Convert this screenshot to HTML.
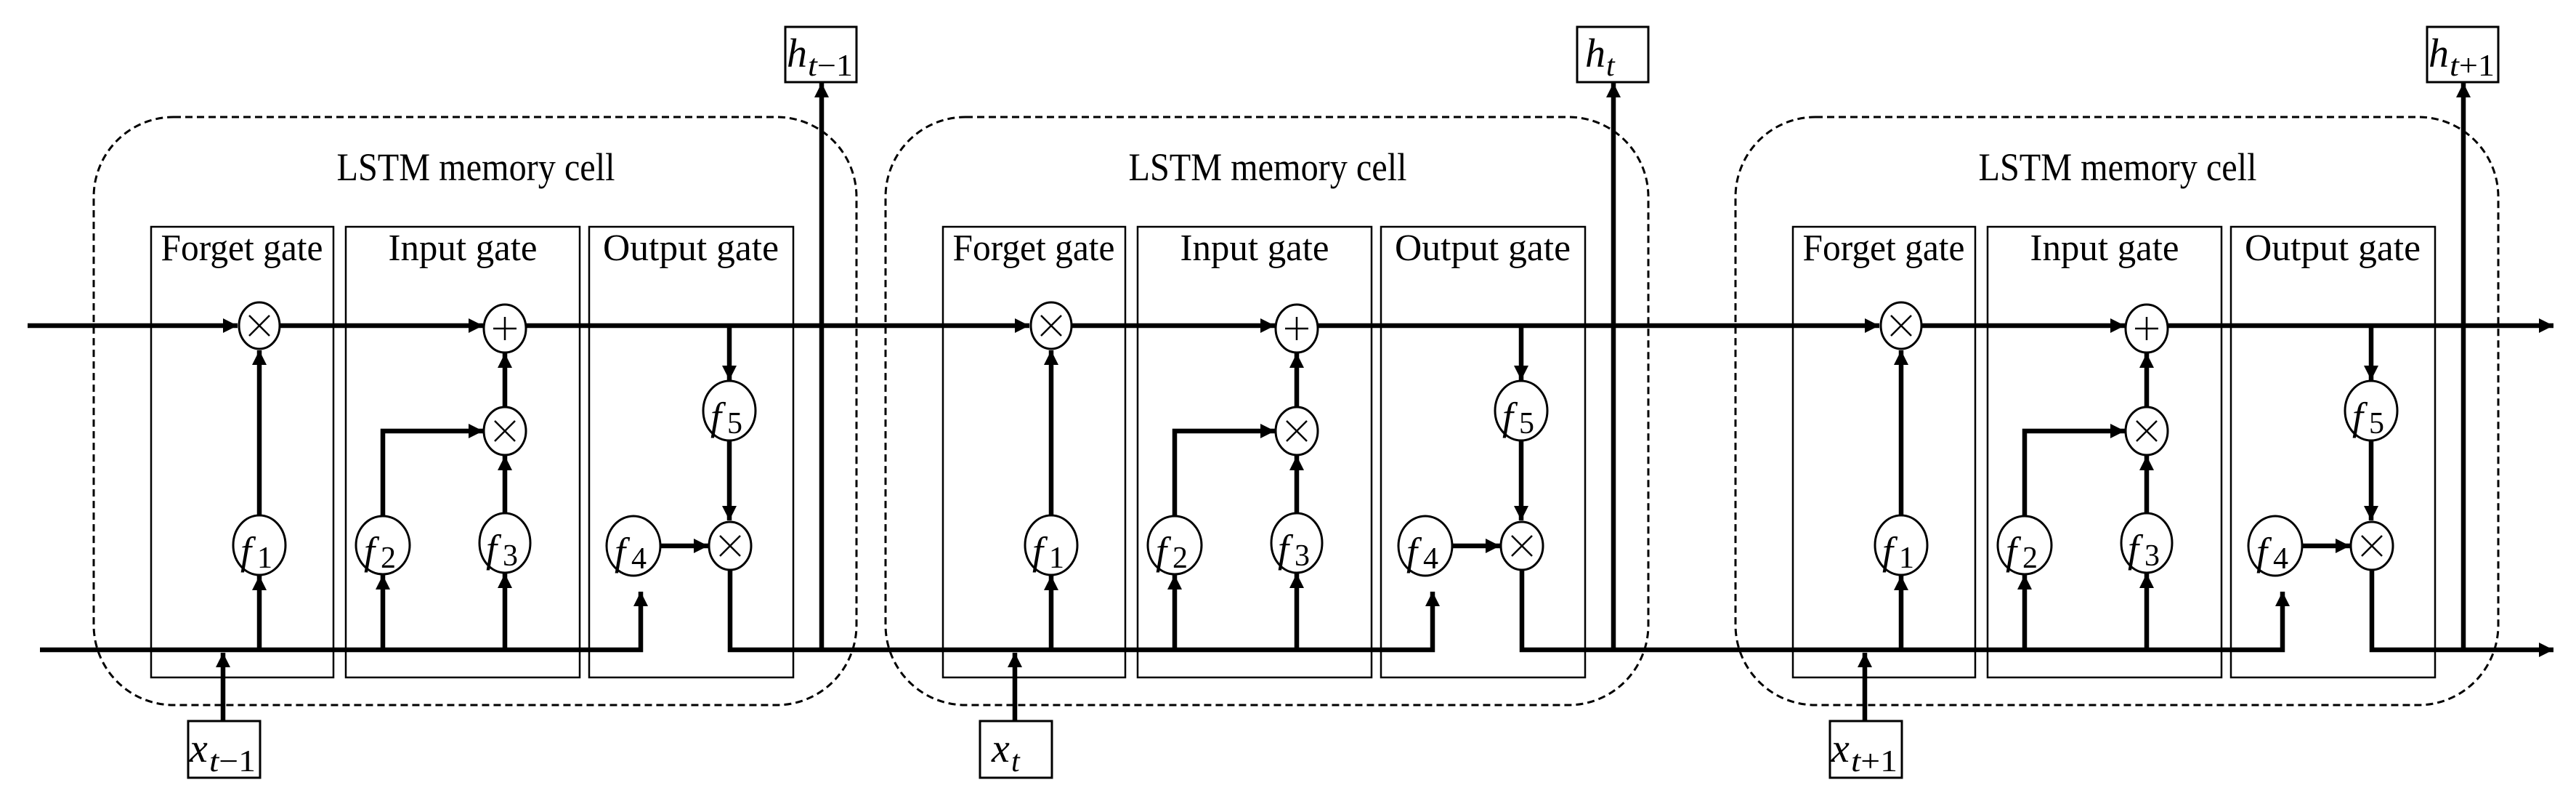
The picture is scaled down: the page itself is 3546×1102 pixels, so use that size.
<!DOCTYPE html>
<html><head><meta charset="utf-8"><style>
html,body{margin:0;padding:0;background:#fff;}
svg{display:block;}
text{font-family:"Liberation Serif",serif;fill:#000;}
.lbl{font-size:52px;}
.it{font-style:italic;}
</style></head><body>
<svg width="3546" height="1102" viewBox="0 0 3546 1102" xmlns="http://www.w3.org/2000/svg">
<defs>
<marker id="a" markerUnits="userSpaceOnUse" markerWidth="22" markerHeight="20" refX="20" refY="10" orient="auto">
<path d="M0,0 L20,10 L0,20 Z" fill="#000"/>
</marker>
<g id="cell">
  <rect x="129" y="161" width="1050" height="809" rx="110" ry="110" fill="none" stroke="#000" stroke-width="3" stroke-dasharray="10,6"/>
  <text x="655" y="248" class="lbl" text-anchor="middle" textLength="383" lengthAdjust="spacingAndGlyphs" style="font-size:54px">LSTM memory cell</text>
  <rect x="208" y="312" width="251" height="620" fill="none" stroke="#000" stroke-width="2.5"/>
  <rect x="476" y="312" width="322" height="620" fill="none" stroke="#000" stroke-width="2.5"/>
  <rect x="811" y="312" width="281" height="620" fill="none" stroke="#000" stroke-width="2.5"/>
  <text x="333" y="358" class="lbl" text-anchor="middle" textLength="223" lengthAdjust="spacingAndGlyphs">Forget gate</text>
  <text x="637" y="358" class="lbl" text-anchor="middle" textLength="205" lengthAdjust="spacingAndGlyphs">Input gate</text>
  <text x="951" y="358" class="lbl" text-anchor="middle" textLength="242" lengthAdjust="spacingAndGlyphs">Output gate</text>

  <g stroke="#000" stroke-width="6.5" fill="none">
    <line x1="357" y1="710" x2="357" y2="482" marker-end="url(#a)"/>
    <line x1="385" y1="448" x2="665" y2="448" marker-end="url(#a)"/>
    <line x1="357" y1="894" x2="357" y2="792" marker-end="url(#a)"/>
    <line x1="527" y1="894" x2="527" y2="791" marker-end="url(#a)"/>
    <line x1="695" y1="894" x2="695" y2="789" marker-end="url(#a)"/>
    <polyline points="527,710 527,593 665,593" marker-end="url(#a)"/>
    <line x1="695" y1="706" x2="695" y2="627" marker-end="url(#a)"/>
    <line x1="695" y1="560" x2="695" y2="486" marker-end="url(#a)"/>
    <line x1="1004" y1="448" x2="1004" y2="523" marker-end="url(#a)"/>
    <line x1="1004" y1="606" x2="1004" y2="716" marker-end="url(#a)"/>
    <line x1="909" y1="751" x2="975" y2="751" marker-end="url(#a)"/>
    <polyline points="1005,783 1005,894 1131,894"/>
    <line x1="1131" y1="894" x2="1131" y2="114" marker-end="url(#a)"/>
    <line x1="307" y1="992" x2="307" y2="898" marker-end="url(#a)"/>
  </g>
  <g fill="#fff" stroke="#000" stroke-width="3">
    <ellipse cx="357" cy="448" rx="28" ry="32"/>
    <ellipse cx="695" cy="452" rx="29" ry="33"/>
    <ellipse cx="695" cy="593" rx="29" ry="33"/>
    <ellipse cx="357" cy="750" rx="36" ry="41"/>
    <ellipse cx="527" cy="750" rx="37" ry="40"/>
    <ellipse cx="695" cy="747" rx="35" ry="41"/>
    <ellipse cx="872" cy="751" rx="37" ry="41"/>
    <ellipse cx="1004" cy="565" rx="36" ry="41"/>
    <ellipse cx="1005" cy="751" rx="29" ry="33"/>
  </g>
  <g stroke="#000" stroke-width="2.5">
    <path d="M343,434 L371,462 M371,434 L343,462"/>
    <path d="M681,579 L709,607 M709,579 L681,607"/>
    <path d="M991,737 L1019,765 M1019,737 L991,765"/>
    <path d="M695,436 L695,468 M679,452 L711,452"/>
  </g>
  <g>
    <text x="331" y="776" style="font-size:54px" class="it">f</text><text x="354" y="781" style="font-size:42px">1</text>
    <text x="501" y="776" style="font-size:54px" class="it">f</text><text x="524" y="781" style="font-size:42px">2</text>
    <text x="669" y="773" style="font-size:54px" class="it">f</text><text x="692" y="778" style="font-size:42px">3</text>
    <text x="846" y="777" style="font-size:54px" class="it">f</text><text x="869" y="782" style="font-size:42px">4</text>
    <text x="978" y="591" style="font-size:54px" class="it">f</text><text x="1001" y="596" style="font-size:42px">5</text>
  </g>
  <rect x="1081" y="37" width="98" height="76" fill="#fff" stroke="#000" stroke-width="3"/>
  <rect x="259" y="992" width="99" height="78" fill="#fff" stroke="#000" stroke-width="3"/>
</g>
</defs>

<use href="#cell"/>
<use href="#cell" transform="translate(1090,0)"/>
<use href="#cell" transform="translate(2260,0)"/>

<g stroke="#000" stroke-width="6.5" fill="none">
  <line x1="38" y1="448" x2="327" y2="448" marker-end="url(#a)"/>
  <line x1="724" y1="448" x2="1417" y2="448" marker-end="url(#a)"/>
  <line x1="1814" y1="448" x2="2587" y2="448" marker-end="url(#a)"/>
  <line x1="2984" y1="448" x2="3515" y2="448" marker-end="url(#a)"/>
  <polyline points="55,894 882,894 882,814" marker-end="url(#a)"/>
  <polyline points="1131,894 1972,894 1972,814" marker-end="url(#a)"/>
  <polyline points="2221,894 3142,894 3142,814" marker-end="url(#a)"/>
  <line x1="3391" y1="894" x2="3515" y2="894" marker-end="url(#a)"/>
</g>

<g>
  <text x="1083" y="92" style="font-size:56px" class="it">h</text><text x="1112" y="104" style="font-size:42px" textLength="62" lengthAdjust="spacingAndGlyphs"><tspan class="it">t</tspan>−1</text>
  <text x="2182" y="92" style="font-size:56px" class="it">h</text><text x="2211" y="104" style="font-size:42px" class="it">t</text>
  <text x="3343" y="92" style="font-size:56px" class="it">h</text><text x="3372" y="104" style="font-size:42px" textLength="62" lengthAdjust="spacingAndGlyphs"><tspan class="it">t</tspan>+1</text>
  <text x="261" y="1048" style="font-size:56px" class="it">x</text><text x="288" y="1061" style="font-size:42px" textLength="64" lengthAdjust="spacingAndGlyphs"><tspan class="it">t</tspan>−1</text>
  <text x="1365" y="1048" style="font-size:56px" class="it">x</text><text x="1392" y="1061" style="font-size:42px" class="it">t</text>
  <text x="2521" y="1048" style="font-size:56px" class="it">x</text><text x="2548" y="1061" style="font-size:42px" textLength="64" lengthAdjust="spacingAndGlyphs"><tspan class="it">t</tspan>+1</text>
</g>
</svg>
</body></html>
